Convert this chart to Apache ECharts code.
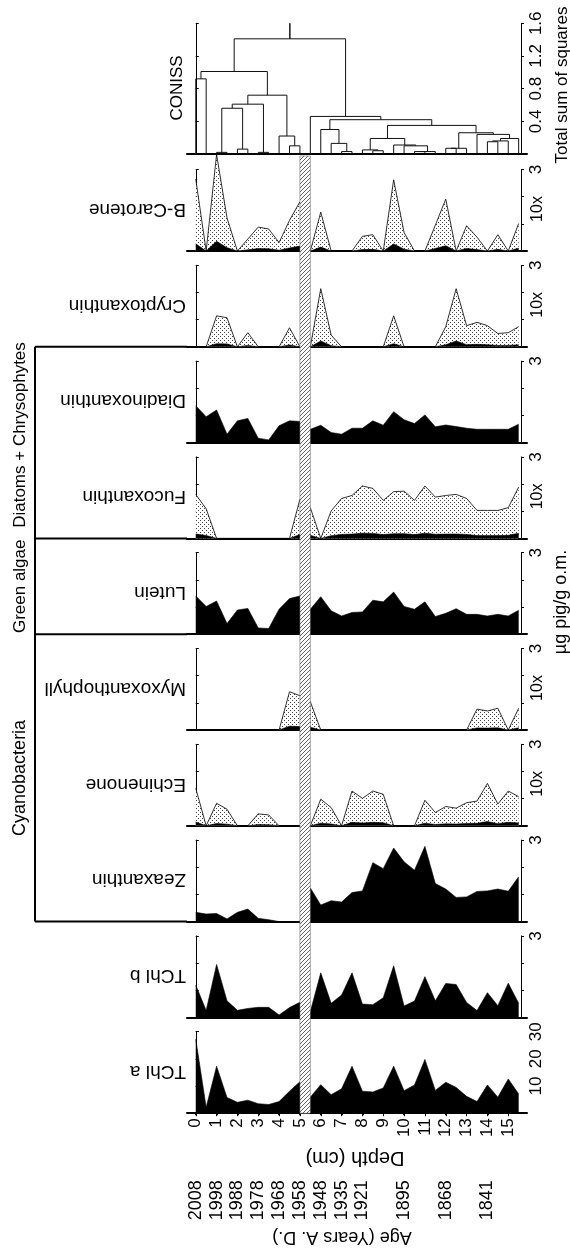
<!DOCTYPE html>
<html>
<head>
<meta charset="utf-8">
<script src="https://cdn.jsdelivr.net/npm/echarts@6/dist/echarts.min.js"></script>
<style>
  html, body { margin: 0; padding: 0; background: #fff; }
  #chart { width: 570px; height: 1252px; }
</style>
</head>
<body>
<div id="chart"></div>
<script>
// sample depths (cm)
var depths = [0, 0.5, 1, 1.5, 2, 2.5, 3, 3.5, 4, 4.5, 5, 5.5, 6, 6.5, 7, 7.5,
  8, 8.5, 9, 9.5, 10, 10.5, 11, 11.5, 12, 12.5, 13, 13.5, 14, 14.5, 15, 15.5];

// pigments, ug pig / g o.m.
var bCarotene = [0.265, 0, 0.355, 0.122, 0, 0.044, 0.088, 0.081, 0.031, 0.113, 0.181, 0, 0.143, 0, 0, 0,
  0.054, 0.060, 0, 0.262, 0.068, 0, 0, 0.095, 0.191, 0, 0.093, 0.051, 0, 0.060, 0, 0.101];
var cryptoxanthin = [0, 0, 0.114, 0.107, 0, 0.052, 0, 0, 0, 0.070, 0, 0, 0.214, 0.043, 0, 0,
  0, 0, 0, 0.114, 0, 0, 0, 0, 0.074, 0.214, 0.078, 0.090, 0.078, 0.049, 0.052, 0.074];
var diadinoxanthin = [1.36, 0.95, 1.20, 0.31, 0.80, 0.89, 0.16, 0.10, 0.62, 0.80, 0.78, 0.49, 0.64, 0.37, 0.31, 0.53,
  0.53, 0.80, 0.64, 1.14, 0.84, 0.70, 1.02, 0.58, 0.65, 0.59, 0.53, 0.49, 0.49, 0.49, 0.49, 0.68];
var fucoxanthin = [0.162, 0.109, 0, 0, 0, 0, 0, 0, 0, 0, 0.144, 0.113, 0, 0.101, 0.147, 0.158,
  0.193, 0.184, 0.140, 0.172, 0.174, 0.140, 0.193, 0.152, 0.158, 0.162, 0.147, 0.103, 0.103, 0.103, 0.113, 0.189];
var lutein = [1.41, 1.02, 1.22, 0.39, 0.89, 0.95, 0.23, 0.21, 0.92, 1.31, 1.41, 0.92, 1.38, 0.86, 0.67, 0.80,
  0.82, 1.25, 1.19, 1.55, 1.02, 0.92, 1.19, 0.65, 0.77, 0.94, 0.73, 0.73, 0.67, 0.73, 0.67, 0.88];
var myxoxanthophyll = [0, 0, 0, 0, 0, 0, 0, 0, 0, 0.141, 0.126, 0.104, 0, 0, 0, 0,
  0, 0, 0, 0, 0, 0, 0, 0, 0, 0, 0, 0.077, 0.070, 0.080, 0, 0.080];
var echinenone = [0.138, 0, 0.083, 0.061, 0, 0, 0.044, 0.040, 0, 0, 0, 0, 0.098, 0.067, 0, 0.128,
  0.101, 0.128, 0.116, 0, 0, 0, 0.094, 0.049, 0.071, 0.065, 0.085, 0.091, 0.156, 0.080, 0.128, 0.107];
var zeaxanthin = [0.34, 0.28, 0.30, 0.10, 0.34, 0.46, 0.12, 0.07, 0, 0, 0, 1.24, 0.61, 0.77, 0.72, 1.07,
  1.13, 2.17, 1.95, 2.71, 2.20, 1.89, 2.77, 1.40, 1.20, 0.89, 0.91, 1.11, 1.13, 1.20, 1.12, 1.65];
var tchlB = [1.19, 0.25, 1.95, 0.61, 0.26, 0.33, 0.37, 0.37, 0.09, 0.36, 0.56, 0.21, 1.64, 0.52, 0.82, 1.64,
  0.49, 0.47, 0.72, 1.90, 0.42, 0.60, 1.50, 0.61, 1.25, 1.21, 0.55, 0.25, 0.91, 0.43, 1.26, 0.52];
var tchlA = [27.3, 2.2, 17.3, 5.8, 4.0, 4.8, 3.5, 3.2, 4.3, 8.1, 11.6, 5.9, 10.5, 6.8, 9.0, 17.3,
  8.1, 7.8, 9.3, 17.3, 8.3, 10.4, 19.8, 8.4, 11.4, 9.5, 6.2, 4.3, 10.4, 5.9, 12.6, 7.1];

// CONISS merges: [left node, right node, total sum of squares]; nodes 0-31 are samples, 32+ merges in order
var conissMerges = [
  [0, 1, 0.92], [2, 3, 0.02], [4, 5, 0.06], [33, 34, 0.56], [6, 7, 0.02], [35, 36, 0.61],
  [9, 10, 0.10], [8, 38, 0.22], [37, 39, 0.72], [32, 40, 1.01],
  [14, 15, 0.03], [13, 42, 0.13], [12, 43, 0.30], [17, 18, 0.04], [16, 45, 0.05],
  [21, 22, 0.03], [47, 23, 0.03], [20, 48, 0.10], [19, 49, 0.11], [46, 50, 0.19],
  [24, 25, 0.07], [52, 26, 0.07], [28, 29, 0.15], [54, 30, 0.16], [55, 31, 0.19],
  [27, 56, 0.24], [53, 57, 0.26], [51, 58, 0.35], [44, 59, 0.42], [11, 60, 0.46], [41, 61, 1.41]
];

var depthTicks = [0, 1, 2, 3, 4, 5, 6, 7, 8, 9, 10, 11, 12, 13, 14, 15];
var ageDepths = [0, 1, 2, 3, 4, 5, 6, 7, 8, 10, 12, 14];
var ageLabels = ['2008', '1998', '1988', '1978', '1968', '1958', '1948', '1935', '1921', '1895', '1868', '1841'];
var hatchBand = [5.0, 5.5];

var panels = [
  { name: 'B-Carotene', values: bCarotene, exag: 10 },
  { name: 'Cryptoxanthin', values: cryptoxanthin, exag: 10 },
  { name: 'Diadinoxanthin', values: diadinoxanthin },
  { name: 'Fucoxanthin', values: fucoxanthin, exag: 10 },
  { name: 'Lutein', values: lutein },
  { name: 'Myxoxanthophyll', values: myxoxanthophyll, exag: 10 },
  { name: 'Echinenone', values: echinenone, exag: 10 },
  { name: 'Zeaxanthin', values: zeaxanthin },
  { name: 'TChl b', values: tchlB },
  { name: 'TChl a', values: tchlA, max: 30, interval: 10 }
];

var FONT = '"Liberation Sans", Arial, Helvetica, sans-serif';
var X_MIN = -0.42, X_MAX = 15.9;
var LEFT = 187, RIGHT = 43;
var BASE0 = 251, STEP = 95.8, PANEL_H = 81.5;

function pattern(size, draw) {
  var c = document.createElement('canvas');
  c.width = size; c.height = size;
  var ctx = c.getContext('2d');
  ctx.fillStyle = '#fff';
  ctx.fillRect(0, 0, size, size);
  draw(ctx);
  return { image: c, repeat: 'repeat' };
}
var dots = pattern(4, function (ctx) {
  ctx.fillStyle = '#444';
  ctx.fillRect(0, 0, 1, 1);
  ctx.fillRect(2, 2, 1, 1);
});
var hatch = pattern(4, function (ctx) {
  ctx.fillStyle = '#666';
  ctx.fillRect(3, 0, 1, 1);
  ctx.fillRect(2, 1, 1, 1);
  ctx.fillRect(1, 2, 1, 1);
  ctx.fillRect(0, 3, 1, 1);
});

var option = {
  animation: false,
  backgroundColor: '#fff',
  grid: [], xAxis: [], yAxis: [], series: [], graphic: []
};

function addGrid(top, height, max, interval, rightFmt) {
  var g = option.grid.length;
  option.grid.push({ left: LEFT, right: RIGHT, top: top, height: height });
  option.xAxis.push({
    type: 'value', gridIndex: g, min: X_MIN, max: X_MAX,
    axisLine: { show: true, onZero: false, lineStyle: { color: '#000', width: 2 } },
    axisTick: { show: false }, axisLabel: { show: false }, splitLine: { show: false }
  });
  option.yAxis.push({
    type: 'value', gridIndex: g, position: 'left', offset: -6, min: 0, max: max, interval: interval,
    axisLine: { show: true, lineStyle: { color: '#000', width: 1 } },
    axisTick: { show: true, inside: true, length: 3, lineStyle: { color: '#000' } },
    axisLabel: { show: false }, splitLine: { show: false }
  });
  option.yAxis.push({
    type: 'value', gridIndex: g, position: 'right', offset: -6, min: 0, max: max, interval: interval,
    axisLine: { show: true, lineStyle: { color: '#000', width: 1 } },
    axisTick: { show: true, length: 3, lineStyle: { color: '#000' } },
    axisLabel: {
      show: true, rotate: 90, margin: 7, fontSize: 17, fontFamily: FONT, color: '#000',
      formatter: rightFmt
    },
    splitLine: { show: false }
  });
  return g;
}

function vText(text, x, y, size) {
  return {
    type: 'text', x: x, y: y, rotation: Math.PI / 2, silent: true,
    style: { text: text, fontSize: size, fontFamily: FONT, fill: '#000',
      align: 'center', verticalAlign: 'middle', textAlign: 'center', textVerticalAlign: 'middle' }
  };
}
function flipText(text, x, y, size, align) {
  return {
    type: 'text', x: x, y: y, rotation: Math.PI, silent: true,
    style: { text: text, fontSize: size, fontFamily: FONT, fill: '#000',
      align: align, verticalAlign: 'middle', textAlign: align, textVerticalAlign: 'middle' }
  };
}
function line(x1, y1, x2, y2, w) {
  return { type: 'line', silent: true, shape: { x1: x1, y1: y1, x2: x2, y2: y2 },
    style: { stroke: '#000', lineWidth: w } };
}

// CONISS dendrogram
var gc = addGrid(23.3, 130.7, 1.6, 0.4, function (v) { return v > 0 ? v.toFixed(1) : ''; });
var nodeX = depths.slice(), nodeH = depths.map(function () { return 0; });
var dendro = [];
conissMerges.forEach(function (m) {
  dendro.push([nodeX[m[0]], nodeX[m[1]], nodeH[m[0]], nodeH[m[1]], m[2]]);
  nodeX.push((nodeX[m[0]] + nodeX[m[1]]) / 2);
  nodeH.push(m[2]);
});
var rootX = nodeX[nodeX.length - 1], rootH = nodeH[nodeH.length - 1];
dendro.push([rootX, rootX, rootH, rootH, 1.6]);
option.series.push({
  type: 'custom', xAxisIndex: gc, yAxisIndex: gc * 2, data: dendro, clip: false,
  renderItem: function (params, api) {
    var a = api.coord([api.value(0), api.value(2)]);
    var b = api.coord([api.value(0), api.value(4)]);
    var c = api.coord([api.value(1), api.value(4)]);
    var d = api.coord([api.value(1), api.value(3)]);
    return { type: 'polyline', shape: { points: [a, b, c, d] },
      style: { stroke: '#111', lineWidth: 1, fill: null } };
  }
});
option.graphic.push(vText('CONISS', 177, 88, 17));
option.graphic.push(vText('Total sum of squares', 562, 85, 17));

// pigment panels
panels.forEach(function (p, k) {
  var base = BASE0 + STEP * k;
  var max = p.max || 3;
  var g = addGrid(base - PANEL_H, PANEL_H, max, p.interval || 1, function (v) {
    if (p.max) return v > 0 ? String(v) : '';
    return v === 3 ? '3' : '';
  });
  if (p.exag) {
    option.series.push({
      type: 'line', xAxisIndex: g, yAxisIndex: g * 2, symbol: 'none', clip: false, z: 2,
      data: depths.map(function (d, i) { return [d, p.values[i] * p.exag]; }),
      lineStyle: { color: '#000', width: 0.8 },
      areaStyle: { color: dots, opacity: 1 }
    });
    option.graphic.push(vText(p.exag + 'x', 538, base - 42, 16));
  }
  option.series.push({
    type: 'line', xAxisIndex: g, yAxisIndex: g * 2, symbol: 'none', clip: false, z: 3,
    data: depths.map(function (d, i) { return [d, p.values[i]]; }),
    lineStyle: { color: '#000', width: 0.6 },
    areaStyle: { color: '#000', opacity: 1 }
  });
  option.graphic.push(flipText(p.name, 186, base - 42, 19, 'left'));
});

// depth and age axes under the last panel
var last = option.xAxis[option.xAxis.length - 1];
last.axisTick = { show: true, length: 3, customValues: depthTicks, lineStyle: { color: '#000' } };
last.axisLabel = { show: true, rotate: 90, margin: 5, fontSize: 17, fontFamily: FONT, color: '#000',
  customValues: depthTicks };
var lastGrid = option.grid.length - 1;
option.xAxis.push({
  type: 'value', gridIndex: lastGrid, position: 'bottom', offset: 62, min: X_MIN, max: X_MAX,
  axisLine: { show: false },
  axisTick: { show: true, length: 2, customValues: ageDepths, lineStyle: { color: '#000', width: 2 } },
  axisLabel: { show: true, rotate: 90, margin: 5, fontSize: 18, fontFamily: FONT, color: '#000',
    customValues: ageDepths,
    formatter: function (v) { return ageLabels[ageDepths.indexOf(v)]; } },
  splitLine: { show: false }
});

// hatched band across all pigment panels
var bandBottom = BASE0 + STEP * (panels.length - 1);
option.grid.push({ left: LEFT, right: RIGHT, top: 156, height: bandBottom - 156 });
var hb = option.grid.length - 1;
option.xAxis.push({ type: 'value', gridIndex: hb, min: X_MIN, max: X_MAX, show: false });
option.yAxis.push({ type: 'value', gridIndex: hb, min: 0, max: 1, show: false });
option.series.push({
  type: 'custom', xAxisIndex: option.xAxis.length - 1, yAxisIndex: option.yAxis.length - 1,
  data: [hatchBand], z: 10,
  renderItem: function (params, api) {
    var a = api.coord([api.value(0), 1]);
    var b = api.coord([api.value(1), 0]);
    return { type: 'rect', shape: { x: a[0], y: a[1], width: b[0] - a[0], height: b[1] - a[1] },
      style: { fill: hatch, stroke: '#555', lineWidth: 0.5 } };
  }
});

// group brackets on the left
var gTop = BASE0 + STEP * 1, gDia = BASE0 + STEP * 3, gGreen = BASE0 + STEP * 4, gCyan = BASE0 + STEP * 7;
option.graphic.push(line(35, gTop, 35, gCyan, 2));
[gTop, gDia, gGreen, gCyan].forEach(function (y) { option.graphic.push(line(35, y, LEFT, y, 2)); });
option.graphic.push(vText('Diatoms + Chrysophytes', 20, 435, 17));
option.graphic.push(vText('Green algae', 20, (gDia + gGreen) / 2, 17));
option.graphic.push(vText('Cyanobacteria', 20, (gGreen + gCyan) / 2, 18));

option.graphic.push(vText('\u00b5g pig/g o.m.', 561, 602, 18));
option.graphic.push(flipText('Depth (cm)', 355, 1158, 20, 'center'));
option.graphic.push(flipText('Age (Years A. D.)', 342, 1237, 18, 'center'));

var chart = echarts.init(document.getElementById('chart'), null, { renderer: 'canvas' });
chart.setOption(option);
</script>
</body>
</html>
